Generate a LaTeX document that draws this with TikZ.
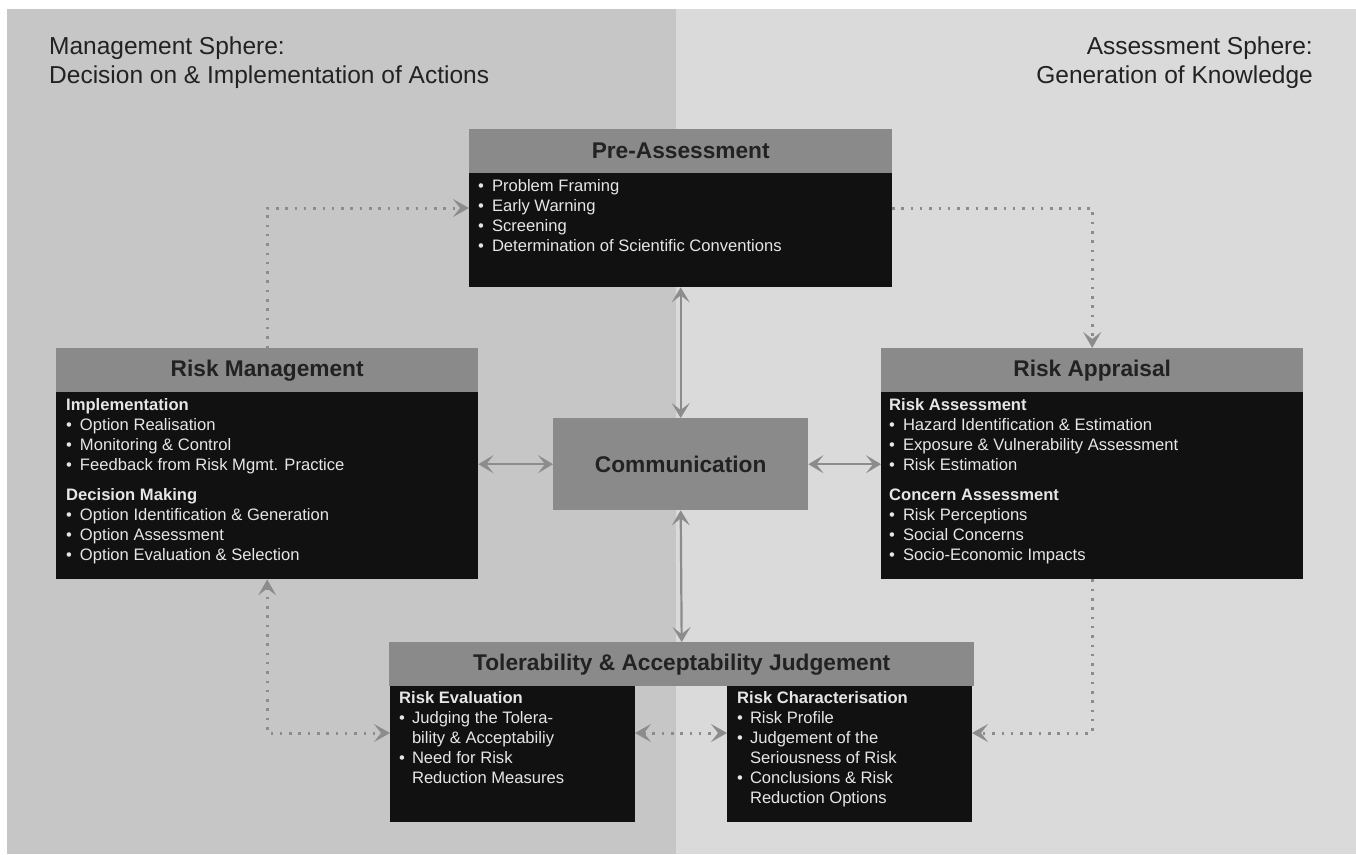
\documentclass[tikz,border=0pt]{standalone}
\usepackage{fontspec}
\setmainfont{Liberation Sans}
\usetikzlibrary{arrows.meta}
\definecolor{leftbg}{HTML}{C6C6C6}
\definecolor{rightbg}{HTML}{DADADA}
\definecolor{hdrgray}{HTML}{8A8A8A}
\definecolor{bodyblack}{HTML}{111111}
\definecolor{arrgray}{HTML}{8C8C8C}
\definecolor{darktext}{HTML}{222222}
\definecolor{lighttext}{HTML}{E6E6E6}
\begin{document}
\begin{tikzpicture}[x=1pt,y=-1pt,
  hdr/.style={draw=none,fill=hdrgray,anchor=north west,inner sep=0pt,
    font=\fontsize{22.7}{27}\selectfont\bfseries,text=darktext},
  bodybox/.style={draw=none,fill=bodyblack,anchor=north west,inner sep=0pt},
  bodytxt/.style={anchor=north west,inner sep=0pt,text=lighttext,
    font=\fontsize{16.6}{20}\selectfont},
  sphere/.style={inner sep=0pt,text=darktext,font=\fontsize{24.5}{29}\selectfont},
  solidarr/.style={draw=arrgray,line width=2.2pt,
    {Stealth[length=15pt,width=18pt,inset=7pt]}-{Stealth[length=15pt,width=18pt,inset=7pt]}},
  dotline/.style={draw=arrgray,line width=3pt,dash pattern=on 2.5pt off 6.8pt},
  tipend/.style={-{Stealth[length=16pt,width=18pt,inset=7pt]}},
  tipboth/.style={{Stealth[length=16pt,width=18pt,inset=7pt]}-{Stealth[length=16pt,width=18pt,inset=7pt]}}
]
\useasboundingbox (0,0) rectangle (1356,854);
\fill[white] (0,0) rectangle (1356,854);
\fill[leftbg] (7,9) rectangle (676,854);
\fill[rightbg] (676,9) rectangle (1356,854);

% sphere labels
\node[sphere,anchor=north west] (mgmt) at (49,34)
  {\begin{tabular}{@{}l@{}}Management Sphere:\\Decision on \& Implementation of Actions\end{tabular}};
\node[sphere,anchor=north east] (asmt) at (1313,34)
  {\begin{tabular}{@{}r@{}}Assessment Sphere:\\Generation of Knowledge\end{tabular}};

% Pre-Assessment
\node[hdr,minimum width=423pt,minimum height=44pt] (pah) at (469,129) {Pre-Assessment};
\node[bodybox,minimum width=423pt,minimum height=114pt] (pab) at (469,173) {};
\node[bodytxt] (pat) at (478,177) {\begin{tabular}{@{}l@{\hspace{8pt}}l@{}}
\textbullet & Problem Framing\\
\textbullet & Early Warning\\
\textbullet & Screening\\
\textbullet & Determination of Scientific Conventions
\end{tabular}};

% Risk Management
\node[hdr,minimum width=422pt,minimum height=44pt] (rmh) at (56,348) {Risk Management};
\node[bodybox,minimum width=422pt,minimum height=187pt] (rmb) at (56,392) {};
\node[bodytxt] (rmt) at (66,396) {\begin{tabular}{@{}l@{\hspace{8pt}}l@{}}
\multicolumn{2}{@{}l@{}}{\bfseries Implementation}\\
\textbullet & Option Realisation\\
\textbullet & Monitoring \& Control\\
\textbullet & Feedback from Risk Mgmt. Practice\\[10pt]
\multicolumn{2}{@{}l@{}}{\bfseries Decision Making}\\
\textbullet & Option Identification \& Generation\\
\textbullet & Option Assessment\\
\textbullet & Option Evaluation \& Selection
\end{tabular}};

% Risk Appraisal
\node[hdr,minimum width=422pt,minimum height=44pt] (rah) at (881,348) {Risk Appraisal};
\node[bodybox,minimum width=422pt,minimum height=187pt] (rab) at (881,392) {};
\node[bodytxt] (rat) at (889,396) {\begin{tabular}{@{}l@{\hspace{8pt}}l@{}}
\multicolumn{2}{@{}l@{}}{\bfseries Risk Assessment}\\
\textbullet & Hazard Identification \& Estimation\\
\textbullet & Exposure \& Vulnerability Assessment\\
\textbullet & Risk Estimation\\[10pt]
\multicolumn{2}{@{}l@{}}{\bfseries Concern Assessment}\\
\textbullet & Risk Perceptions\\
\textbullet & Social Concerns\\
\textbullet & Socio-Economic Impacts
\end{tabular}};

% Communication
\node[hdr,minimum width=255pt,minimum height=92pt] (comm) at (553,418) {Communication};

% Tolerability & Acceptability Judgement
\node[hdr,minimum width=585pt,minimum height=44pt] (tah) at (389,642) {Tolerability \& Acceptability Judgement};
\node[bodybox,minimum width=245pt,minimum height=136pt] (reb) at (390,686) {};
\node[bodybox,minimum width=245pt,minimum height=136pt] (rcb) at (727,686) {};
\node[bodytxt] (ret) at (399,689) {\begin{tabular}{@{}l@{\hspace{7pt}}l@{}}
\multicolumn{2}{@{}l@{}}{\bfseries Risk Evaluation}\\
\textbullet & Judging the Tolera-\\
 & bility \& Acceptabiliy\\
\textbullet & Need for Risk\\
 & Reduction Measures
\end{tabular}};
\node[bodytxt] (rct) at (737,689) {\begin{tabular}{@{}l@{\hspace{7pt}}l@{}}
\multicolumn{2}{@{}l@{}}{\bfseries Risk Characterisation}\\
\textbullet & Risk Profile\\
\textbullet & Judgement of the\\
 & Seriousness of Risk\\
\textbullet & Conclusions \& Risk\\
 & Reduction Options
\end{tabular}};

% solid arrows
\draw[solidarr] (pab.south) -- (comm.north);
\draw[solidarr] (comm.south) -- (tah.north);
\draw[solidarr] (rmb.east |- comm.west) -- (comm.west);
\draw[solidarr] (comm.east) -- (rab.west |- comm.east);

% dotted arrows
\coordinate (paW) at (469,208);
\coordinate (paE) at (892,208);
\coordinate (rcE) at (972,733);
\coordinate (reW) at (390,733);
\coordinate (reE) at (635,733);
\coordinate (rcW) at (727,733);
\draw[dotline,tipend] (rmh.north) |- (paW);
\draw[dotline,tipend] (paE) -| (rah.north);
\draw[dotline,tipend] (rab.south) |- (rcE);
\draw[dotline,tipboth] (rmb.south) |- (reW);
\draw[dotline,tipboth] (reE) -- (rcW);
\end{tikzpicture}
\end{document}
